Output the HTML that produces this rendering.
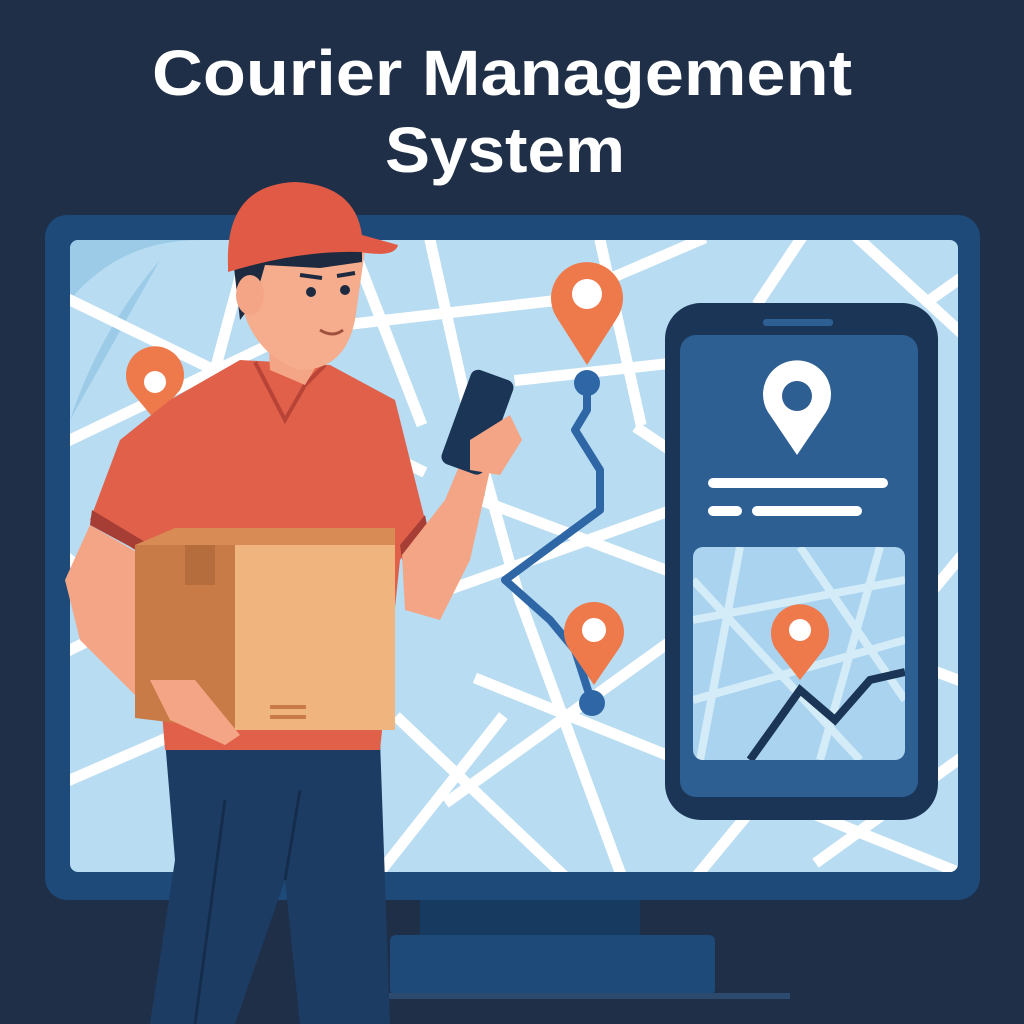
<!DOCTYPE html>
<html><head><meta charset="utf-8"><style>
html,body{margin:0;padding:0;background:#1f2f48;}
svg{display:block}
</style></head><body>
<svg width="1024" height="1024" viewBox="0 0 1024 1024" xmlns="http://www.w3.org/2000/svg">
<rect width="1024" height="1024" fill="#1f2f48"/>
<text x="152" y="95" textLength="700" lengthAdjust="spacingAndGlyphs" font-family="Liberation Sans, sans-serif" font-weight="bold" font-size="64" fill="#fff">Courier Management</text>
<text x="385" y="172" textLength="240" lengthAdjust="spacingAndGlyphs" font-family="Liberation Sans, sans-serif" font-weight="bold" font-size="64" fill="#fff">System</text>
<!-- stand -->
<rect x="420" y="895" width="220" height="45" fill="#173a60"/>
<rect x="390" y="935" width="325" height="60" rx="6" fill="#1d4a78"/>
<rect x="370" y="993" width="420" height="6" fill="#2b4a6e"/>
<!-- monitor -->
<rect x="45" y="215" width="935" height="685" rx="22" fill="#1d4a78"/>
<clipPath id="scr"><rect x="70" y="240" width="888" height="632" rx="8"/></clipPath>
<g clip-path="url(#scr)">
<rect x="70" y="240" width="888" height="632" fill="#b8dcf1"/>
<path d="M70 300 Q120 240 200 240 L70 240Z M70 420 Q100 330 160 260" fill="#9ccbe8"/>
<g stroke="#fff" stroke-width="11" fill="none" stroke-linecap="square">
<path d="M70 300 L420 470"/><path d="M250 240 L180 500"/><path d="M70 440 L300 330 L560 300 L700 240"/>
<path d="M430 240 L470 420 L520 600 L620 872"/><path d="M350 240 L420 420"/>
<path d="M600 240 L640 420"/><path d="M480 500 L958 680"/><path d="M420 600 L700 500"/>
<path d="M400 720 L560 872"/><path d="M450 800 L700 620"/><path d="M70 650 L250 560"/>
<path d="M70 780 L300 680"/><path d="M480 680 L958 872"/><path d="M700 872 L958 560"/>
<path d="M800 240 L760 300"/><path d="M860 240 L958 330"/><path d="M930 300 L958 280"/>
<path d="M70 560 L120 600"/><path d="M520 380 L700 360"/><path d="M640 430 L700 470"/>
<path d="M380 872 L500 720"/><path d="M820 860 L958 760"/>
</g>
</g>
<!-- route -->
<path d="M587 383 L587 410 L575 430 L600 470 L600 510 L505 580 L550 620 L575 650 L592 703" stroke="#2f67a6" stroke-width="8" fill="none" stroke-linejoin="round"/>
<circle cx="587" cy="383" r="13" fill="#2f67a6"/>
<circle cx="592" cy="703" r="13" fill="#2f67a6"/>
<path d="M587 365 L557 318 A36 36 0 1 1 617 318 Z" fill="#ee7a4c"/>
<circle cx="587" cy="294" r="15" fill="#fff"/>
<path d="M594 685 L570 650 A30 30 0 1 1 618 650 Z" fill="#ee7a4c"/>
<circle cx="594" cy="630" r="12" fill="#fff"/>
<path d="M155 420 L130 390 A29 29 0 1 1 180 390 Z" fill="#ee7a4c"/>
<circle cx="155" cy="382" r="11" fill="#fff"/>
<!-- phone -->
<rect x="665" y="303" width="273" height="517" rx="36" fill="#1b3556"/>
<rect x="680" y="335" width="238" height="462" rx="16" fill="#2e5f93"/>
<rect x="763" y="319" width="70" height="7" rx="3" fill="#2e5f93"/>
<path d="M797 455 L770 415 A34 34 0 1 1 824 415 Z" fill="#fff"/>
<circle cx="797" cy="396" r="15" fill="#2e5f93"/>
<rect x="708" y="478" width="180" height="10" rx="5" fill="#fff"/>
<rect x="708" y="506" width="34" height="10" rx="5" fill="#fff"/>
<rect x="752" y="506" width="110" height="10" rx="5" fill="#fff"/>
<clipPath id="mi"><rect x="693" y="547" width="212" height="213" rx="10"/></clipPath>
<g clip-path="url(#mi)">
<rect x="693" y="547" width="212" height="213" fill="#a9d3ee"/>
<g stroke="#d4ebf8" stroke-width="8" fill="none">
<path d="M693 620 L905 580"/><path d="M740 547 L700 760"/><path d="M800 547 L905 700"/><path d="M693 700 L905 640"/><path d="M693 580 L860 760"/><path d="M880 547 L820 760"/>
</g>
<path d="M750 760 L800 690 L835 720 L870 680 L905 672" stroke="#1b3556" stroke-width="8" fill="none"/>
</g>
<path d="M800 680 L775 648 A29 29 0 1 1 825 648 Z" fill="#ee7a4c"/>
<circle cx="800" cy="630" r="11" fill="#fff"/>
<!-- person: pants -->
<path d="M165 740 L380 740 L390 1024 L300 1024 L285 880 L235 1024 L150 1024 L175 860Z" fill="#1d3c63"/>
<path d="M285 880 L300 790 M225 800 L195 1024" stroke="#152d4d" stroke-width="3" fill="none"/>
<!-- shirt -->
<path d="M170 400 L240 360 L330 365 L395 400 L425 520 L400 560 L380 750 L165 750 L150 560 L90 520 L120 440Z" fill="#e0604a"/>
<path d="M92 510 L150 545 L155 560 L90 525Z" fill="#a63e35"/>
<path d="M400 545 L425 515 L428 530 L402 560Z" fill="#a63e35"/>
<path d="M255 362 L285 420 L305 385 L325 365" fill="none" stroke="#b84437" stroke-width="4"/>
<!-- arms -->
<path d="M90 525 L65 580 L80 640 L140 700 L175 700 L150 560Z" fill="#f4a585"/>
<path d="M402 555 L405 610 L440 620 L470 560 L490 470 L470 440 L445 500Z" fill="#f4a585"/>
<!-- neck / head -->
<path d="M268 330 L270 370 L305 385 L320 360 L318 325Z" fill="#f4a585"/>
<path d="M235 250 Q235 350 300 370 Q345 370 355 320 L365 250Z" fill="#f6ad8d"/>
<path d="M232 250 L240 320 L255 300 L265 265 L320 268 L362 262 L362 240Z" fill="#1d2a40"/>
<ellipse cx="250" cy="295" rx="14" ry="20" fill="#f4a585"/>
<circle cx="311" cy="292" r="5" fill="#1d2a40"/><circle cx="345" cy="290" r="5" fill="#1d2a40"/>
<path d="M300 275 L322 278 M337 276 L355 273" stroke="#1d2a40" stroke-width="4"/>
<path d="M320 330 Q333 338 343 330" stroke="#a0503f" stroke-width="3" fill="none"/>
<!-- cap -->
<path d="M228 265 Q225 185 295 182 Q355 185 362 235 L398 245 Q395 258 360 252 Q300 250 228 272Z" fill="#e05a45"/>
<!-- phone in hand -->
<rect x="455" y="372" width="45" height="100" rx="8" fill="#1b3556" transform="rotate(20 477 422)"/>
<path d="M470 440 L510 415 L522 440 L500 475 L470 470Z" fill="#f4a585"/>
<!-- box -->
<path d="M135 545 L175 528 L395 528 L395 545Z" fill="#d98b55"/>
<path d="M135 545 L235 545 L235 730 L135 718Z" fill="#c97b47"/>
<rect x="235" y="545" width="160" height="185" fill="#f0b57f"/>
<path d="M185 545 L215 545 L215 585 L185 585Z" fill="#b56d3e"/>
<rect x="270" y="705" width="36" height="4" fill="#c97b47"/><rect x="270" y="715" width="36" height="4" fill="#c97b47"/>
<path d="M150 680 L195 680 L240 735 L225 745 L170 720Z" fill="#f4a585"/>
</svg>
</body></html>
